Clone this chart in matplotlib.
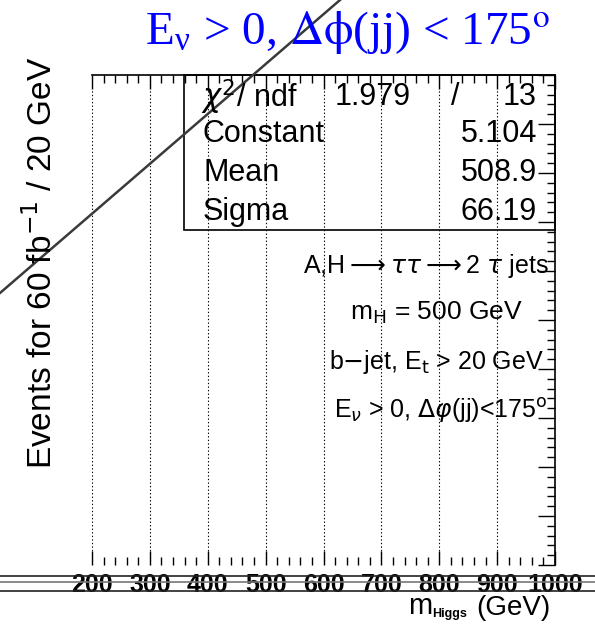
from matplotlib import pyplot as plt
from matplotlib.ticker import MultipleLocator
from matplotlib.patches import Rectangle
from matplotlib.lines import Line2D

plt.rcParams['font.family'] = ['Liberation Sans', 'DejaVu Sans']
plt.rcParams['mathtext.fontset'] = 'dejavusans'

# data
x_ticks = [200, 300, 400, 500, 600, 700, 800, 900, 1000]
x_range = [200, 1000]
y_range = [0, 10]
fit_names = ['Constant', 'Mean', 'Sigma']
fit_values = ['5.104', '508.9', '66.19']
chi2 = '1.979'
ndf = '13'
notes = [r'A,H$\longrightarrow\tau\tau\longrightarrow$2 $\tau$ jets',
         r'm$_{\rm H}$ = 500 GeV',
         r'b$-$jet, E$_{\rm t}$ > 20 GeV',
         r'E$_{\nu}$ > 0, $\Delta\varphi$(jj)<175$^{\rm o}$']

W, H = 595, 627
def px(x, y):
  # pixel position -> figure fraction
  return x / W, 1 - y / H

fig = plt.figure(figsize=(W / 100, H / 100), dpi=100)
ax = fig.add_axes([92 / W, 1 - 565 / H, (555 - 92) / W, (565 - 75) / H])
ax.set_xlim(x_range)
ax.set_ylim(y_range)
ax.spines['left'].set_visible(False)
ax.spines['bottom'].set_visible(False)
for s in ['top', 'right']:
  ax.spines[s].set_linewidth(1.2)

ax.set_xticks(x_ticks)
ax.xaxis.set_minor_locator(MultipleLocator(20))
ax.yaxis.set_major_locator(MultipleLocator(1))
ax.yaxis.set_minor_locator(MultipleLocator(0.2))
ax.tick_params(axis='x', which='both', direction='in', top=True, bottom=True, width=1)
ax.tick_params(axis='x', which='major', length=10, pad=6)
ax.tick_params(axis='x', which='minor', length=6)
ax.tick_params(axis='y', which='both', direction='in', left=False, right=True,
               labelleft=False, width=1)
ax.tick_params(axis='y', which='major', length=12)
ax.tick_params(axis='y', which='minor', length=6)
for lab in ax.get_xticklabels():
  lab.set_fontsize(18)
  lab.set_fontweight('bold')

for xv in x_ticks[:-1]:
  ax.axvline(xv, color='black', lw=0.8, ls=(0, (1.2, 2)))

# fit statistics box
bx0, by0 = 184, 230
ax.add_patch(Rectangle(((bx0 - 92) / 463, (565 - by0) / 490), 1 - (bx0 - 92) / 463,
                       (by0 - 75) / 490, transform=ax.transAxes, fill=False,
                       ec='black', lw=1.2, clip_on=False))
rows_y = [97, 134, 173, 212]
fs = 22
fig.text(*px(201, rows_y[0]), r'$\chi^2$/ ndf', fontsize=fs, va='center', ha='left')
fig.text(*px(335, rows_y[0]), chi2, fontsize=fs, va='center', ha='left')
fig.text(*px(455, rows_y[0]), '/', fontsize=fs, va='center', ha='center')
fig.text(*px(537, rows_y[0]), ndf, fontsize=fs, va='center', ha='right')
for name, val, yy in zip(fit_names, fit_values, rows_y[1:]):
  fig.text(*px(203, yy), name, fontsize=fs, va='center', ha='left')
  fig.text(*px(537, yy), val, fontsize=fs, va='center', ha='right')

# annotations
notes_pos = [(426, 266), (436, 313), (436, 362), (441, 410)]
notes_fs = [18, 19, 18, 18]
for t, (xx, yy), f in zip(notes, notes_pos, notes_fs):
  fig.text(*px(xx, yy), t, fontsize=f, va='center', ha='center')

# title
fig.text(*px(347, 33), r'E$_{\mathdefault{\nu}}$ > 0, $\mathrm{\Delta\phi}$(jj) < 175$^{\rm o}$',
         fontsize=34, color='#0000ff', family='Liberation Serif',
         math_fontfamily='stix', ha='center', va='center')

# axis titles
fig.text(*px(42, 263), r'Events for 60 fb$^{-1}$ / 20 GeV', fontsize=24,
         rotation=90, ha='center', va='center')
fig.text(*px(408, 614), 'm', fontsize=21, ha='left', va='baseline')
fig.text(*px(432, 617), 'Higgs', fontsize=9, fontweight='bold', ha='left', va='baseline')
fig.text(*px(550, 615), '(GeV)', fontsize=20, ha='right', va='baseline')

# stray lines across the canvas
for yy, c in [(576, '#222222'), (582, '#777777'), (591, '#222222')]:
  fig.add_artist(Line2D([0, 1], [1 - yy / H] * 2, color=c, lw=1.2,
                        transform=fig.transFigure))
fig.add_artist(Line2D([0, 340 / W], [1 - 293 / H, 1], color='#3a3a3a', lw=1.8,
                      transform=fig.transFigure))

fig.savefig('out.png', dpi=100)
